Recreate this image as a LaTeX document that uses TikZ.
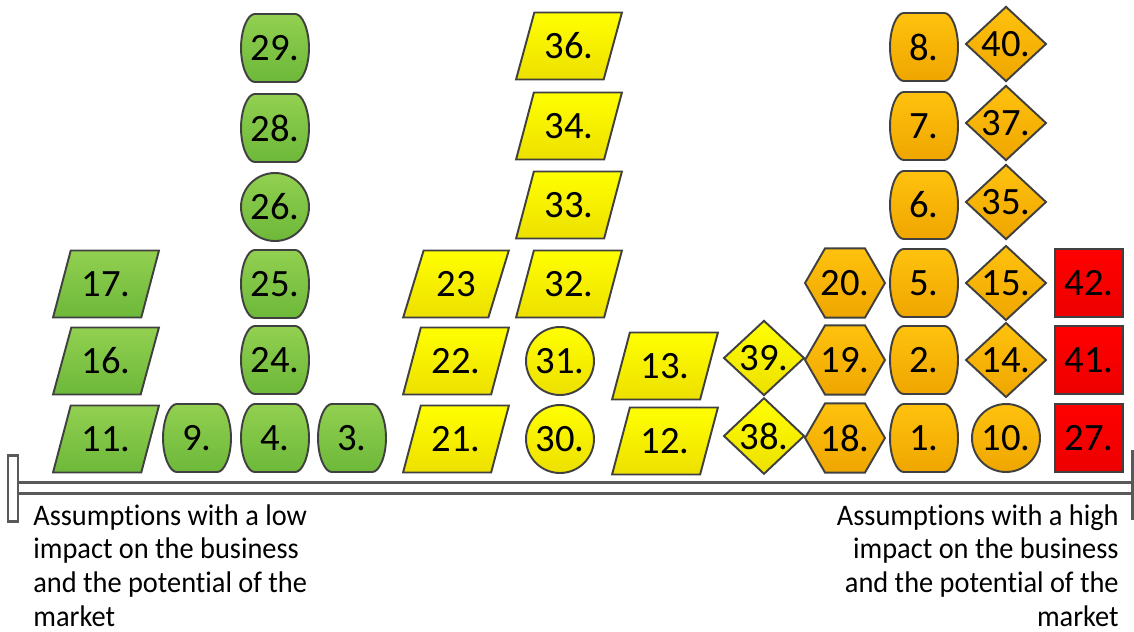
\documentclass[tikz,border=0pt]{standalone}
\usepackage{fontspec}
\setmainfont{Carlito}
\newfontfamily\notefont[FakeStretch=0.95, Ligatures=NoCommon]{Carlito}
\usepackage{xcolor}
\usetikzlibrary{shapes.geometric}

\definecolor{edgeGray}{HTML}{404040}
\definecolor{axisGray}{HTML}{595959}
\definecolor{greenTop}{HTML}{92D050}
\definecolor{greenBot}{HTML}{6DB83A}
\definecolor{yellowTop}{HTML}{FFFF00}
\definecolor{yellowBot}{HTML}{EDE000}
\definecolor{orangeTop}{HTML}{FFC20E}
\definecolor{orangeBot}{HTML}{EFA600}
\definecolor{redTop}{HTML}{FF0000}
\definecolor{redBot}{HTML}{EE0000}

% barrel shape: flat top and bottom, bulging sides
\makeatletter
\def\brlpt#1#2{\pgfpoint{\brlCx+(#1)*\brlW}{\brlCy+(#2)*\brlH}}
\pgfdeclareshape{barrel}{
  \inheritsavedanchors[from=rectangle]
  \inheritanchorborder[from=rectangle]
  \inheritanchor[from=rectangle]{center}
  \inheritanchor[from=rectangle]{north}
  \inheritanchor[from=rectangle]{south}
  \inheritanchor[from=rectangle]{east}
  \inheritanchor[from=rectangle]{west}
  \backgroundpath{%
    \southwest \pgf@xa=\pgf@x \pgf@ya=\pgf@y
    \northeast \pgf@xb=\pgf@x \pgf@yb=\pgf@y
    \edef\brlCx{\the\dimexpr(\pgf@xa+\pgf@xb)/2\relax}%
    \edef\brlCy{\the\dimexpr(\pgf@ya+\pgf@yb)/2\relax}%
    \edef\brlW{\the\dimexpr(\pgf@xb-\pgf@xa)/2\relax}%
    \edef\brlH{\the\dimexpr(\pgf@yb-\pgf@ya)/2\relax}%
    \pgfpathmoveto{\brlpt{-0.6}{1}}%
    \pgfpathlineto{\brlpt{0.6}{1}}%
    \pgfpathcurveto{\brlpt{0.8}{1}}{\brlpt{1}{0.55}}{\brlpt{1}{0}}%
    \pgfpathcurveto{\brlpt{1}{-0.55}}{\brlpt{0.8}{-1}}{\brlpt{0.6}{-1}}%
    \pgfpathlineto{\brlpt{-0.6}{-1}}%
    \pgfpathcurveto{\brlpt{-0.8}{-1}}{\brlpt{-1}{-0.55}}{\brlpt{-1}{0}}%
    \pgfpathcurveto{\brlpt{-1}{0.55}}{\brlpt{-0.8}{1}}{\brlpt{-0.6}{1}}%
    \pgfpathclose
  }
}
\makeatother

\begin{document}
\begin{tikzpicture}[x=0.02cm, y=-0.02cm,
    box/.style={draw=edgeGray, line width=1.1pt, inner sep=0pt, outer sep=0pt,
        font=\fontsize{22}{24}\selectfont},
    para/.style={box, trapezium, trapezium left angle=64, trapezium right angle=116,
        trapezium stretches=true, minimum width=2.12cm, minimum height=1.34cm},
    rnd/.style={box, barrel, minimum width=1.36cm, minimum height=1.36cm},
    circ/.style={box, circle, minimum size=1.36cm},
    hexa/.style={box, regular polygon, regular polygon sides=6, minimum size=1.48cm},
    diam/.style={box, diamond, minimum width=1.6cm, minimum height=1.44cm},
    sq/.style={box, rectangle, minimum size=1.36cm},
    fillGreen/.style={top color=greenTop, bottom color=greenBot},
    fillYellow/.style={top color=yellowTop, bottom color=yellowBot},
    fillOrange/.style={top color=orangeTop, bottom color=orangeBot},
    fillRed/.style={top color=redTop, bottom color=redBot},
    axis/.style={draw=axisGray, line width=0.06cm, double=white, double distance=0.16cm},
    note/.style={inner sep=0pt, font=\notefont\fontsize{17}{19.2}\selectfont}]

    \useasboundingbox (0,0) rectangle (1134,632);

    % =================================================================
    % 1. LOW IMPACT (GREEN)
    % =================================================================
    \node[para, fillGreen] (N11) at (106,439) {11.};
    \node[para, fillGreen] (N16) at (106,361) {16.};
    \node[para, fillGreen] (N17) at (106,284) {17.};
    \node[rnd, fillGreen] (N9) at (197,438) {9.};
    \node[rnd, fillGreen] (N4) at (275,438) {4.};
    \node[rnd, fillGreen] (N24) at (275,360) {24.};
    \node[rnd, fillGreen] (N25) at (275,284) {25.};
    \node[circ, fillGreen] (N26) at (275,207) {26.};
    \node[rnd, fillGreen] (N28) at (275,128) {28.};
    \node[rnd, fillGreen] (N29) at (275,48) {29.};
    \node[rnd, fillGreen] (N3) at (352,438) {3.};

    % =================================================================
    % 2. MEDIUM IMPACT (YELLOW)
    % =================================================================
    \node[para, fillYellow] (N21) at (456,439) {21.};
    \node[para, fillYellow] (N22) at (456,361) {22.};
    \node[para, fillYellow] (N23) at (456,284) {23};
    \node[circ, fillYellow] (N30) at (560,439) {30.};
    \node[circ, fillYellow] (N31) at (560,361) {31.};
    \node[para, fillYellow] (N32) at (569,284) {32.};
    \node[para, fillYellow] (N33) at (569,205) {33.};
    \node[para, fillYellow] (N34) at (569,126) {34.};
    \node[para, fillYellow] (N36) at (569,46) {36.};
    \node[para, fillYellow] (N12) at (665,441) {12.};
    \node[para, fillYellow] (N13) at (665,366) {13.};
    \node[diam, fillYellow] (N38) at (764,436) {38.};
    \node[diam, fillYellow] (N39) at (764,358) {39.};

    % =================================================================
    % 3. HIGH IMPACT (ORANGE, RED)
    % =================================================================
    \node[hexa, fillOrange] (N18) at (845,438) {18.};
    \node[hexa, fillOrange] (N19) at (845,360) {19.};
    \node[hexa, fillOrange] (N20) at (845,283) {20.};
    \node[rnd, fillOrange] (N1) at (924,438) {1.};
    \node[rnd, fillOrange] (N2) at (924,360) {2.};
    \node[rnd, fillOrange] (N5) at (924,283) {5.};
    \node[rnd, fillOrange] (N6) at (924,205) {6.};
    \node[rnd, fillOrange] (N7) at (924,126) {7.};
    \node[rnd, fillOrange] (N8) at (924,47) {8.};
    \node[circ, fillOrange] (N10) at (1006,438) {10.};
    \node[diam, fillOrange] (N14) at (1006,360) {14.};
    \node[diam, fillOrange] (N15) at (1006,283) {15.};
    \node[diam, fillOrange] (N35) at (1006,202) {35.};
    \node[diam, fillOrange] (N37) at (1006,123) {37.};
    \node[diam, fillOrange] (N40) at (1006,44) {40.};
    \node[sq, fillRed] (N27) at (1089,438) {27.};
    \node[sq, fillRed] (N41) at (1089,360) {41.};
    \node[sq, fillRed] (N42) at (1089,283) {42.};

    % =================================================================
    % 4. AXIS
    % =================================================================
    \coordinate (AxisLeft) at (18,488);
    \coordinate (AxisRight) at (1132,488);
    \draw[axis] (AxisLeft) -- (AxisRight);
    \draw[axisGray, line width=0.06cm, fill=white] (8,455) rectangle (18,521);
    \draw[axisGray, line width=0.06cm] (1132,450) -- (1132,520);

    \node[note, anchor=north west, align=left] (LowNote) at (33,504)
        {Assumptions with a low\\impact on the business\\and the potential of the\\market};
    \node[note, anchor=north east, align=right] (HighNote) at (1119,504)
        {Assumptions with a high\\impact on the business\\and the potential of the\\market};

\end{tikzpicture}
\end{document}
